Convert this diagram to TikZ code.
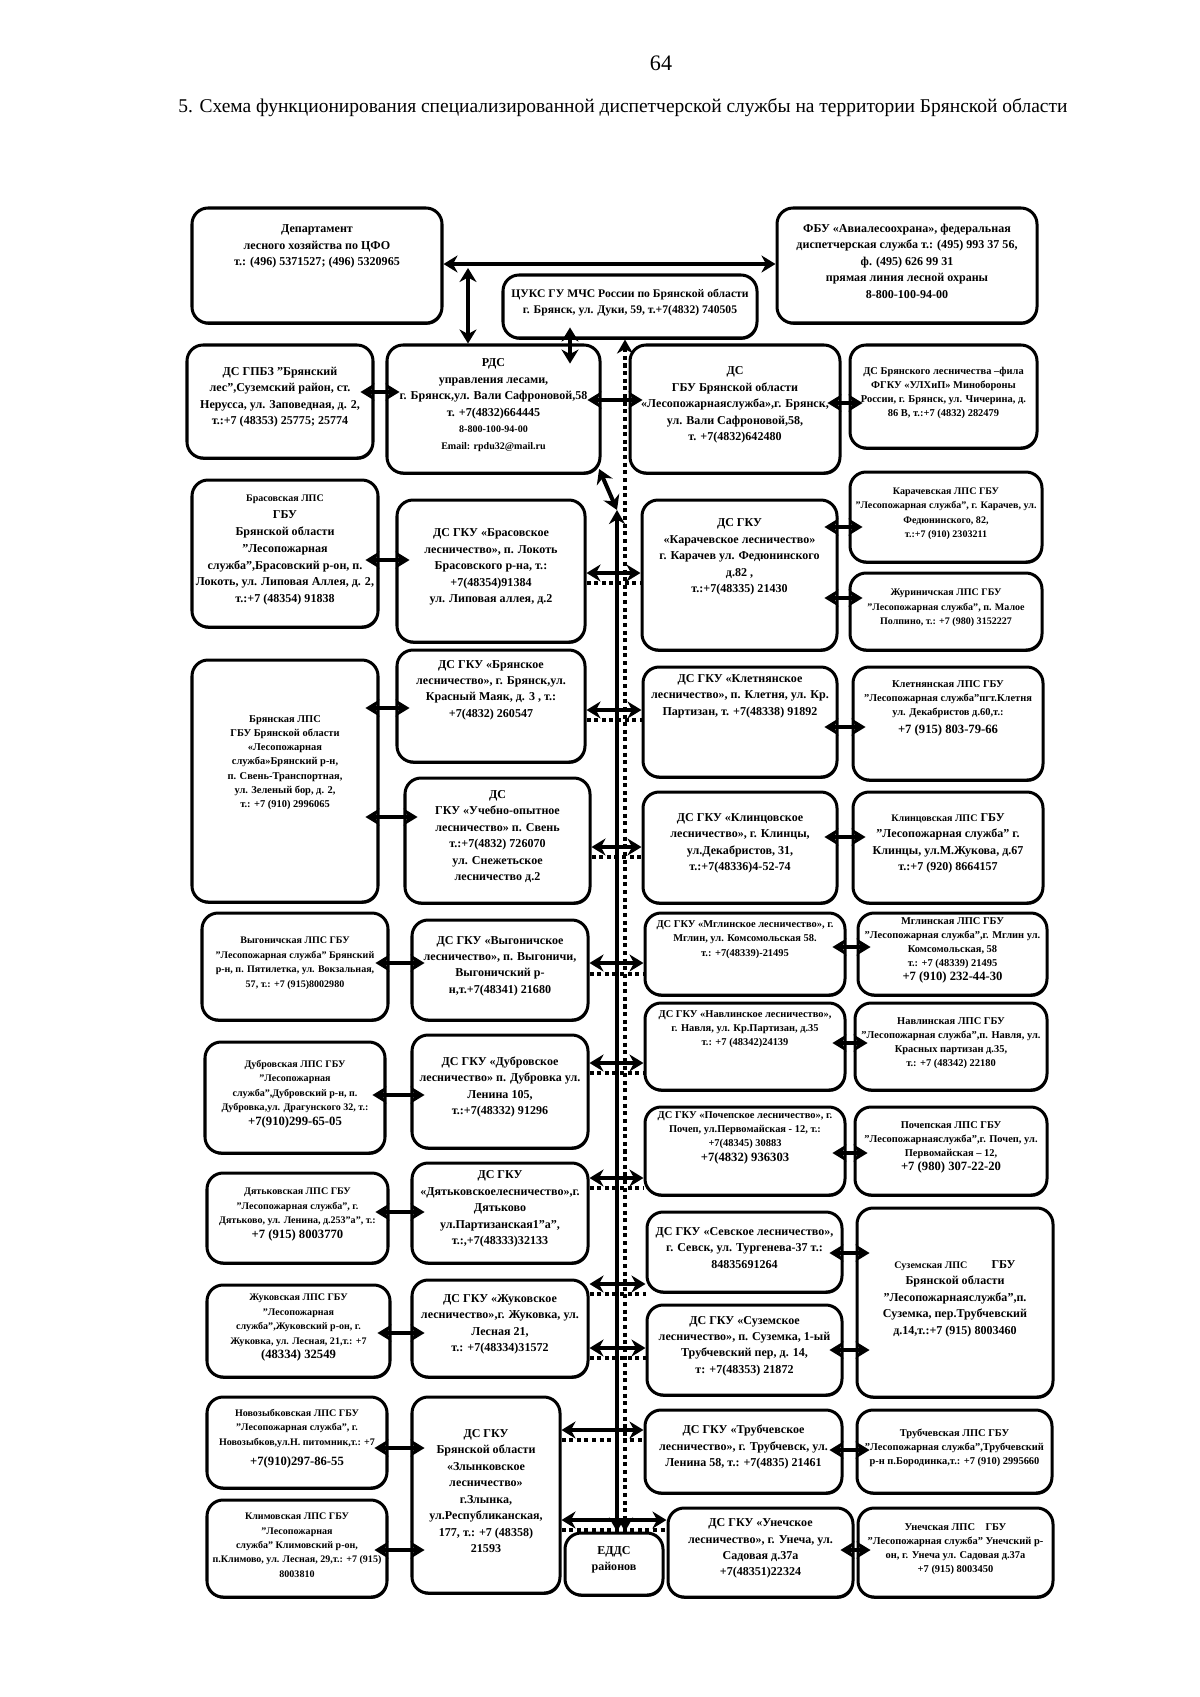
\documentclass[tikz,border=0pt]{standalone}
\usepackage{fontspec}
\setmainfont{Liberation Serif}
\usetikzlibrary{fit, arrows.meta, shadows}
\newcommand\smalltxt[1]{{\fontsize{5}{6.4}\selectfont #1}}
\newcommand\bignum[1]{{\fontsize{6.3}{7.6}\selectfont #1}}
\newcommand\pushup[1]{\\[#1]\mbox{}}

\begin{document}
\begin{tikzpicture}[x=0.0175cm, y=-0.0175cm,
  box/.style={draw, fill=white, line width=1.5pt, rounded corners=8pt,
    inner sep=0pt, align=center,
    drop shadow={shadow xshift=0.4pt, shadow yshift=-0.9pt, opacity=1, fill=black},
    font=\bfseries\fontsize{6}{8.2}\selectfont},
  mbox/.style={box, font=\bfseries\fontsize{5.2}{7}\selectfont},
  sbox/.style={box, font=\bfseries\fontsize{5}{7.2}\selectfont},
  dbl/.style={line width=2pt, {Stealth[length=7pt, width=8.5pt]}-{Stealth[length=7pt, width=8.5pt]}},
  pair/.style={dbl, shorten <=-7pt, shorten >=-7pt},
  bus/.style={line width=2.4pt, {Stealth[length=7pt, width=8pt]}-{Stealth[length=7pt, width=8pt]}},
  dotline/.style={line width=2pt, dash pattern=on 2pt off 1.8pt}]

\useasboundingbox (0,0) rectangle (1200,1697);
\fill [white] (0,0) rectangle (1200,1697);

\node [font=\fontsize{11}{13}\selectfont] (page) at (661,63) {64};
\node [font=\fontsize{9.7}{12}\selectfont] (title) at (623,108) {5. Схема функционирования специализированной диспетчерской службы на территории Брянской области};

% top
\node [box, fit={(192,208) (442,323)}] (dept) {Департамент\\лесного хозяйства по ЦФО\\т.: (496) 5371527; (496) 5320965\pushup{8pt}};
\node [box, fit={(777,208) (1037,323)}] (fbu) {ФБУ «Авиалесоохрана», федеральная\\диспетчерская служба т.: (495) 993 37 56,\\ф. (495) 626 99 31\\прямая линия лесной охраны\\8-800-100-94-00};
\node [box, fit={(503,275) (757,338)}, font=\bfseries\fontsize{5.8}{8.2}\selectfont] (cuks) {ЦУКС ГУ МЧС России по Брянской области\\г. Брянск, ул. Дуки, 59, т.+7(4832) 740505};

\node [box, fit={(187,345) (373,458)}] (gpbz) {ДС ГПБЗ "Брянский\\лес",Суземский район, ст.\\Нерусса, ул. Заповедная, д. 2,\\т.:+7 (48353) 25775; 25774};
\node [box, fit={(387,345) (600,473)}] (rds) {РДС\\управления лесами,\\г. Брянск,ул. Вали Сафроновой,58\\т. +7(4832)664445\\\smalltxt{8-800-100-94-00}\\\smalltxt{Email: rpdu32@mail.ru}};
\node [box, fit={(630,345) (840,473)}] (gbu) {ДС\\ГБУ Брянской области\\«Лесопожарнаяслужба»,г. Брянск,\\ул. Вали Сафроновой,58,\\т. +7(4832)642480};
\node [mbox, fit={(850,345) (1037,448)}] (mil) {ДС Брянского лесничества –фила\\ФГКУ «УЛХиП» Минобороны\\России, г. Брянск, ул. Чичерина, д.\\86 В, т.:+7 (4832) 282479};

% left column
\node [box, fit={(192,480) (378,627)}, font=\bfseries\fontsize{6}{8.4}\selectfont] (braslps) {\smalltxt{Брасовская ЛПС}\\ГБУ\\Брянской области\\"Лесопожарная\\служба",Брасовский р-он, п.\\Локоть, ул. Липовая Аллея, д. 2,\\т.:+7 (48354) 91838};
\node [mbox, fit={(192,660) (378,902)}] (brylps) {Брянская ЛПС\\ГБУ Брянской области\\«Лесопожарная\\служба»Брянский р-н,\\п. Свень-Транспортная,\\ул. Зеленый бор, д. 2,\\т.: +7 (910) 2996065\pushup{9pt}};
\node [sbox, fit={(202,913) (388,1020)}] (vyglps) {Выгоничская ЛПС ГБУ\\"Лесопожарная служба" Брянский\\р-н, п. Пятилетка, ул. Вокзальная,\\57, т.: +7 (915)8002980};
\node [sbox, fit={(205,1042) (385,1153)}] (dublps) {Дубровская ЛПС ГБУ\\"Лесопожарная\\служба",Дубровский р-н, п.\\Дубровка,ул. Драгунского 32, т.:\\\bignum{+7(910)299-65-05}};
\node [sbox, fit={(207,1173) (388,1263)}] (dyatlps) {Дятьковская ЛПС ГБУ\\"Лесопожарная служба", г.\\Дятьково, ул. Ленина, д.253"а", т.:\\\bignum{+7 (915) 8003770}};
\node [sbox, fit={(207,1285) (390,1377)}] (zhuklps) {Жуковская ЛПС ГБУ\\"Лесопожарная\\служба",Жуковский р-он, г.\\Жуковка, ул. Лесная, 21,т.: +7\\\bignum{(48334) 32549}};
\node [sbox, fit={(207,1397) (387,1488)}] (novlps) {Новозыбковская ЛПС ГБУ\\"Лесопожарная служба", г.\\Новозыбков,ул.Н. питомник,т.: +7\\[3pt]\bignum{+7(910)297-86-55}};
\node [sbox, fit={(207,1500) (387,1597)}] (klimlps) {Климовская ЛПС ГБУ\\"Лесопожарная\\служба" Климовский р-он,\\п.Климово, ул. Лесная, 29,т.: +7 (915)\\8003810};

% ds left of the bus
\node [box, fit={(397,500) (585,642)}] (brasds) {ДС ГКУ «Брасовское\\лесничество», п. Локоть\\Брасовского р-на, т.:\\+7(48354)91384\\ул. Липовая аллея, д.2};
\node [box, fit={(397,650) (585,762)}] (bryds) {ДС ГКУ «Брянское\\лесничество», г. Брянск,ул.\\Красный Маяк, д. 3 , т.:\\+7(4832) 260547\pushup{5pt}};
\node [box, fit={(405,778) (590,903)}] (uchds) {ДС\\ГКУ «Учебно-опытное\\лесничество» п. Свень\\т.:+7(4832) 726070\\ул. Снежетьское\\лесничество д.2};
\node [box, fit={(412,920) (588,1020)}] (vygds) {ДС ГКУ «Выгоничское\\лесничество», п. Выгоничи,\\Выгоничский р-\\н,т.+7(48341) 21680};
\node [box, fit={(412,1035) (588,1148)}] (dubds) {ДС ГКУ «Дубровское\\лесничество» п. Дубровка ул.\\Ленина 105,\\т.:+7(48332) 91296};
\node [box, fit={(412,1163) (588,1263)}] (dyatds) {ДС ГКУ\\«Дятьковскоелесничество»,г.\\Дятьково\\ул.Партизанская1"а",\\т.:,+7(48333)32133};
\node [box, fit={(412,1280) (588,1377)}] (zhukds) {ДС ГКУ «Жуковское\\лесничество»,г. Жуковка, ул.\\Лесная 21,\\т.: +7(48334)31572};
\node [box, fit={(412,1397) (560,1593)}] (zlynds) {ДС ГКУ\\Брянской области\\«Злынковское\\лесничество»\\г.Злынка,\\ул.Республиканская,\\177, т.: +7 (48358)\\21593};
\node [box, fit={(565,1533) (663,1595)}] (edds) {ЕДДС\\районов};

% ds right of the bus
\node [box, fit={(642,500) (837,650)}] (karads) {ДС ГКУ\\«Карачевское лесничество»\\г. Карачев ул. Федюнинского\\д.82 ,\\т.:+7(48335) 21430\pushup{7pt}};
\node [box, fit={(643,667) (837,777)}] (kletds) {ДС ГКУ «Клетнянское\\лесничество», п. Клетня, ул. Кр.\\Партизан, т. +7(48338) 91892\pushup{15pt}};
\node [box, fit={(643,792) (837,903)}] (klinds) {ДС ГКУ «Клинцовское\\лесничество», г. Клинцы,\\ул.Декабристов, 31,\\т.:+7(48336)4-52-74};
\node [mbox, fit={(645,913) (845,995)}] (mglds) {ДС ГКУ «Мглинское лесничество», г.\\Мглин, ул. Комсомольская 58.\\т.: +7(48339)-21495\pushup{5pt}};
\node [mbox, fit={(645,1003) (845,1090)}] (navds) {ДС ГКУ «Навлинское лесничество»,\\г. Навля, ул. Кр.Партизан, д.35\\т.: +7 (48342)24139\pushup{8pt}};
\node [mbox, fit={(645,1107) (845,1195)}] (pochds) {ДС ГКУ «Почепское лесничество», г.\\Почеп, ул.Первомайская - 12, т.:\\+7(48345) 30883\\\bignum{+7(4832) 936303}\pushup{4pt}};
\node [box, fit={(647,1212) (842,1292)}] (sevds) {ДС ГКУ «Севское лесничество»,\\г. Севск, ул. Тургенева-37 т.:\\84835691264};
\node [box, fit={(647,1305) (842,1395)}] (suzds) {ДС ГКУ «Суземское\\лесничество», п. Суземка, 1-ый\\Трубчевский пер, д. 14,\\т: +7(48353) 21872};
\node [box, fit={(645,1410) (842,1493)}] (trubds) {ДС ГКУ «Трубчевское\\лесничество», г. Трубчевск, ул.\\Ленина 58, т.: +7(4835) 21461};
\node [box, fit={(668,1508) (853,1597)}] (unds) {ДС ГКУ «Унечское\\лесничество», г. Унеча, ул.\\Садовая д.37а\\+7(48351)22324};

% right column
\node [sbox, fit={(850,472) (1042,562)}] (karalps) {Карачевская ЛПС ГБУ\\"Лесопожарная служба", г. Карачев, ул.\\Федюнинского, 82,\\т.:+7 (910) 2303211};
\node [sbox, fit={(850,573) (1042,650)}] (zhurlps) {Журиничская ЛПС ГБУ\\"Лесопожарная служба", п. Малое\\Полпино, т.: +7 (980) 3152227};
\node [mbox, fit={(853,667) (1043,780)}] (kletlps) {Клетнянская ЛПС ГБУ\\"Лесопожарная служба"пгт.Клетня\\ул. Декабристов д.60,т.:\\[2pt]\bignum{+7 (915) 803-79-66}\pushup{6pt}};
\node [box, fit={(853,792) (1043,903)}] (klinlps) {\smalltxt{Клинцовская ЛПС} ГБУ\\"Лесопожарная служба" г.\\Клинцы, ул.М.Жукова, д.67\\т.:+7 (920) 8664157};
\node [mbox, fit={(858,913) (1047,995)}] (mgllps) {Мглинская ЛПС ГБУ\\"Лесопожарная служба",г. Мглин ул.\\Комсомольская, 58\\т.: +7 (48339) 21495\\\bignum{+7 (910) 232-44-30}};
\node [mbox, fit={(855,1003) (1047,1090)}] (navlps) {Навлинская ЛПС ГБУ\\"Лесопожарная служба",п. Навля, ул.\\Красных партизан д.35,\\т.: +7 (48342) 22180};
\node [mbox, fit={(855,1107) (1047,1195)}] (pochlps) {Почепская ЛПС ГБУ\\"Лесопожарнаяслужба",г. Почеп, ул.\\Первомайская – 12,\\\bignum{+7 (980) 307-22-20}};
\node [box, fit={(857,1208) (1053,1397)}] (suzlps) {\smalltxt{Суземская ЛПС}\qquad ГБУ\\Брянской области\\"Лесопожарнаяслужба",п.\\Суземка, пер.Трубчевский\\д.14,т.:+7 (915) 8003460};
\node [mbox, fit={(857,1410) (1052,1493)}] (trublps) {Трубчевская ЛПС ГБУ\\"Лесопожарная служба",Трубчевский\\р-н п.Бородинка,т.: +7 (910) 2995660};
\node [mbox, fit={(858,1508) (1053,1597)}] (unlps) {Унечская ЛПС\quad ГБУ\\"Лесопожарная служба" Унечский р-\\он, г. Унеча ул. Садовая д.37а\\+7 (915) 8003450};

% links at the top
\draw [dbl, line width=2.4pt] (dept.east |- 0,264) -- (fbu.west |- 0,264);
\coordinate (deptjoint) at (468,268);
\draw [dbl] (deptjoint) -- (rds.north -| deptjoint);
\draw [dbl, shorten <=-6pt, shorten >=-10pt] (cuks.south -| 570,0) -- (rds.north -| 570,0);
\draw [pair] (gpbz.east |- 0,392) -- (rds.west |- 0,392);
\draw [pair] (rds.east |- 0,400) -- (gbu.west |- 0,400);
\draw [pair] (gbu.east |- 0,403) -- (mil.west |- 0,403);

% the two lines down to EDDS
\coordinate (bustop) at (617,510);
\draw [dbl, shorten <=-3pt] (rds.south east) -- (bustop);
\draw [bus] (bustop) -- (bustop |- edds.north);
\draw [dotline, {Stealth[length=7pt, width=8pt]}-{Stealth[length=7pt, width=8pt]}] (cuks.south -| 625,0) -- (edds.north -| 625,0);

% rows across the bus
\draw [dbl] (brasds.east |- 0,573) -- (karads.west |- 0,573);
\draw [dotline] (brasds.east |- 0,583) -- (karads.west |- 0,583);
\draw [dbl] (bryds.east |- 0,710) -- (kletds.west |- 0,710);
\draw [dotline] (bryds.east |- 0,720) -- (kletds.west |- 0,720);
\draw [dbl] (uchds.east |- 0,847) -- (klinds.west |- 0,847);
\draw [dotline] (uchds.east |- 0,857) -- (klinds.west |- 0,857);
\draw [dbl] (vygds.east |- 0,963) -- (mglds.west |- 0,963);
\draw [dotline] (vygds.east |- 0,974) -- (mglds.west |- 0,974);
\draw [dbl] (dubds.east |- 0,1063) -- (navds.west |- 0,1063);
\draw [dotline] (dubds.east |- 0,1073) -- (navds.west |- 0,1073);
\draw [dbl] (dyatds.east |- 0,1178) -- (pochds.west |- 0,1178);
\draw [dotline] (dyatds.east |- 0,1188) -- (pochds.west |- 0,1188);
\draw [dbl] (zhukds.east |- 0,1284) -- (sevds.west |- 0,1284);
\draw [dotline] (zhukds.east |- 0,1294) -- (sevds.west |- 0,1294);
\draw [dbl] (zhukds.east |- 0,1348) -- (suzds.west |- 0,1348);
\draw [dotline] (zhukds.east |- 0,1358) -- (suzds.west |- 0,1358);
\draw [dbl] (zlynds.east |- 0,1430) -- (trubds.west |- 0,1430);
\draw [dotline] (zlynds.east |- 0,1440) -- (trubds.west |- 0,1440);
\draw [dbl] (zlynds.east |- 0,1520) -- (unds.west |- 0,1520);
\draw [dotline] (zlynds.east |- 0,1530) -- (unds.west |- 0,1530);

% lps to ds
\draw [pair] (braslps.east |- 0,560) -- (brasds.west |- 0,560);
\draw [pair] (brylps.east |- 0,708) -- (bryds.west |- 0,708);
\draw [pair] (brylps.east |- 0,817) -- (uchds.west |- 0,817);
\draw [pair] (vyglps.east |- 0,963) -- (vygds.west |- 0,963);
\draw [pair] (dublps.east |- 0,1095) -- (dubds.west |- 0,1095);
\draw [pair] (dyatlps.east |- 0,1212) -- (dyatds.west |- 0,1212);
\draw [pair] (zhuklps.east |- 0,1333) -- (zhukds.west |- 0,1333);
\draw [pair] (novlps.east |- 0,1448) -- (zlynds.west |- 0,1448);
\draw [pair] (klimlps.east |- 0,1550) -- (zlynds.west |- 0,1550);
\draw [pair] (karads.east |- 0,527) -- (karalps.west |- 0,527);
\draw [pair] (karads.east |- 0,598) -- (zhurlps.west |- 0,598);
\draw [pair] (kletds.east |- 0,727) -- (kletlps.west |- 0,727);
\draw [pair] (klinds.east |- 0,837) -- (klinlps.west |- 0,837);
\draw [pair] (mglds.east |- 0,947) -- (mgllps.west |- 0,947);
\draw [pair] (navds.east |- 0,1043) -- (navlps.west |- 0,1043);
\draw [pair] (pochds.east |- 0,1153) -- (pochlps.west |- 0,1153);
\draw [pair] (sevds.east |- 0,1253) -- (suzlps.west |- 0,1253);
\draw [pair] (suzds.east |- 0,1350) -- (suzlps.west |- 0,1350);
\draw [pair] (trubds.east |- 0,1450) -- (trublps.west |- 0,1450);
\draw [pair] (unds.east |- 0,1550) -- (unlps.west |- 0,1550);
\end{tikzpicture}
\end{document}
